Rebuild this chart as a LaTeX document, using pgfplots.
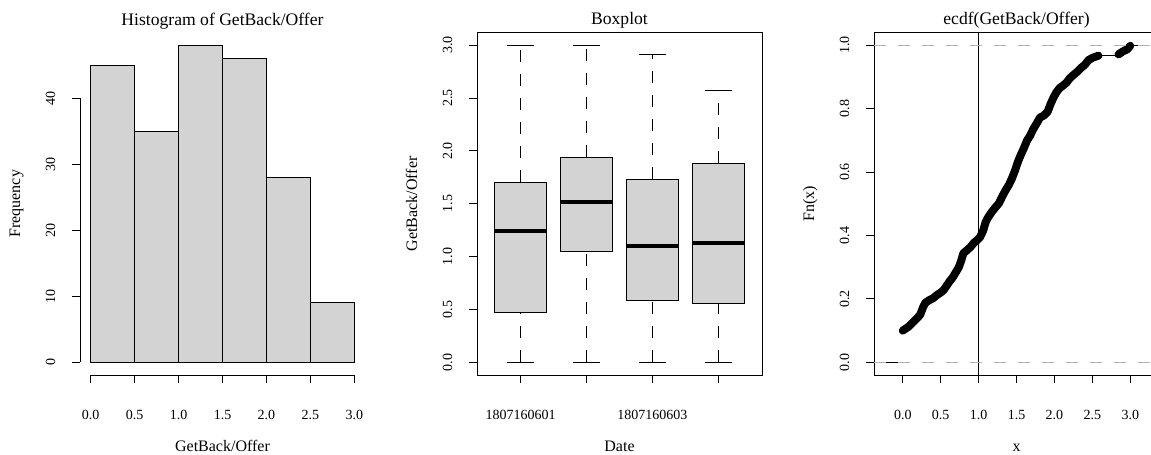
\documentclass[border=0pt]{standalone}
\usepackage{fontspec}
\setmainfont{Liberation Serif}
\usepackage{pgfplots}
\pgfplotsset{compat=1.18}
\definecolor{boxgray}{HTML}{D3D3D3}
\definecolor{dashgray}{HTML}{B3B3B3}
\pgfplotsset{
  rpanel/.style={
    scale only axis, width=142.5pt, height=171.25pt, anchor=south west,
    axis line style={line width=0.5pt},
    tick style={black, line width=0.5pt},
    tick align=outside, major tick length=4pt,
    tick pos=left,
    every axis title shift=0pt,
    tick label style={font=\fontsize{7}{8}\selectfont},
    label style={font=\fontsize{8}{9}\selectfont},
    title style={font=\fontsize{8.8}{10}\selectfont, at={(axis description cs:0.5,1.0219)}, anchor=base},
    xlabel style={at={(axis description cs:0.5,-0.2248)}, anchor=base},
    ylabel style={at={(axis description cs:-0.2105,0.5)}, anchor=base},
    xticklabel style={anchor=base, yshift=-18pt},
    yticklabel style={xshift=-8.5pt, rotate=90, anchor=base},
    clip=false,
  },
  dsh/.style={dash pattern=on 6pt off 6pt},
}
\begin{document}
\begin{tikzpicture}
\useasboundingbox (0,0) rectangle (575.5pt,227.5pt);
\clip (0,0) rectangle (575.5pt,227.5pt);
% ---------------- Histogram ----------------
\begin{axis}[rpanel, at={(40pt,40pt)},
  xmin=-0.12, xmax=3.12, ymin=-1.92, ymax=49.92,
  axis line style={draw=none},
  xtick={0,0.5,1,1.5,2,2.5,3}, xticklabels={0.0,0.5,1.0,1.5,2.0,2.5,3.0},
  ytick={0,10,20,30,40}, yticklabels={0,10,20,30,40},
  title={Histogram of GetBack/Offer}, xlabel={GetBack/Offer}, ylabel={Frequency}]
\addplot[ybar interval, fill=boxgray, draw=black, line width=0.5pt]
  coordinates {(0,45)(0.5,35)(1,48)(1.5,46)(2,28)(2.5,9)(3,9)};
\addplot[black, line width=0.5pt] coordinates {(0,-1.92)(3,-1.92)};
\addplot[black, line width=0.5pt] coordinates {(-0.12,0)(-0.12,40)};
\end{axis}
% ---------------- Boxplot ----------------
\begin{axis}[rpanel, at={(238.5pt,40pt)},
  xmin=0.34, xmax=4.66, ymin=-0.12, ymax=3.12,
  xtick={1,2,3,4}, xticklabels={1807160601,,1807160603,},
  ytick={0,0.5,1,1.5,2,2.5,3}, yticklabels={0.0,0.5,1.0,1.5,2.0,2.5,3.0},
  title={Boxplot}, xlabel={Date}, ylabel={GetBack/Offer}]
% box 1
\addplot[black, line width=0.5pt, dsh] coordinates {(1,0)(1,0.468)};
\addplot[black, line width=0.5pt, dsh] coordinates {(1,1.704)(1,3.0)};
\addplot[black, line width=0.5pt] coordinates {(0.8,0)(1.2,0)};
\addplot[black, line width=0.5pt] coordinates {(0.8,3.0)(1.2,3.0)};
\addplot[fill=boxgray, draw=black, line width=0.5pt] coordinates {(0.6,0.468)(1.4,0.468)(1.4,1.704)(0.6,1.704)(0.6,0.468)};
\addplot[black, line width=2pt] coordinates {(0.6,1.245)(1.4,1.245)};
% box 2
\addplot[black, line width=0.5pt, dsh] coordinates {(2,0)(2,1.05)};
\addplot[black, line width=0.5pt, dsh] coordinates {(2,1.94)(2,3.0)};
\addplot[black, line width=0.5pt] coordinates {(1.8,0)(2.2,0)};
\addplot[black, line width=0.5pt] coordinates {(1.8,3.0)(2.2,3.0)};
\addplot[fill=boxgray, draw=black, line width=0.5pt] coordinates {(1.6,1.05)(2.4,1.05)(2.4,1.94)(1.6,1.94)(1.6,1.05)};
\addplot[black, line width=2pt] coordinates {(1.6,1.512)(2.4,1.512)};
% box 3
\addplot[black, line width=0.5pt, dsh] coordinates {(3,0)(3,0.585)};
\addplot[black, line width=0.5pt, dsh] coordinates {(3,1.73)(3,2.915)};
\addplot[black, line width=0.5pt] coordinates {(2.8,0)(3.2,0)};
\addplot[black, line width=0.5pt] coordinates {(2.8,2.915)(3.2,2.915)};
\addplot[fill=boxgray, draw=black, line width=0.5pt] coordinates {(2.6,0.585)(3.4,0.585)(3.4,1.73)(2.6,1.73)(2.6,0.585)};
\addplot[black, line width=2pt] coordinates {(2.6,1.097)(3.4,1.097)};
% box 4
\addplot[black, line width=0.5pt, dsh] coordinates {(4,0)(4,0.553)};
\addplot[black, line width=0.5pt, dsh] coordinates {(4,1.883)(4,2.572)};
\addplot[black, line width=0.5pt] coordinates {(3.8,0)(4.2,0)};
\addplot[black, line width=0.5pt] coordinates {(3.8,2.572)(4.2,2.572)};
\addplot[fill=boxgray, draw=black, line width=0.5pt] coordinates {(3.6,0.553)(4.4,0.553)(4.4,1.883)(3.6,1.883)(3.6,0.553)};
\addplot[black, line width=2pt] coordinates {(3.6,1.128)(4.4,1.128)};
\end{axis}
% ---------------- ECDF ----------------
\begin{axis}[rpanel, at={(437pt,40pt)},
  xmin=-0.379, xmax=3.379, ymin=-0.04, ymax=1.04,
  xtick={0,0.5,1,1.5,2,2.5,3}, xticklabels={0.0,0.5,1.0,1.5,2.0,2.5,3.0},
  ytick={0,0.2,0.4,0.6,0.8,1}, yticklabels={0.0,0.2,0.4,0.6,0.8,1.0},
  title={ecdf(GetBack/Offer)}, xlabel={x}, ylabel={Fn(x)}]
\addplot[black, line width=0.5pt] coordinates {(-0.24,0)(0,0)};
\addplot[black, line width=0.5pt] coordinates {(2.58,0.969)(2.845,0.969)};
\addplot[black, line width=0.5pt] coordinates {(3,1)(3.24,1)};
\addplot[black, line width=4pt, line cap=round, line join=round] coordinates {
(0.00,0.100)(0.075,0.112)(0.13,0.125)(0.185,0.138)(0.23,0.150)(0.27,0.175)
(0.30,0.188)(0.35,0.196)(0.40,0.202)(0.45,0.212)(0.50,0.220)(0.54,0.228)
(0.58,0.242)(0.62,0.256)(0.66,0.268)(0.70,0.284)(0.74,0.300)(0.77,0.320)
(0.80,0.344)(0.84,0.352)(0.89,0.363)(0.94,0.377)(0.98,0.385)(1.02,0.395)
(1.06,0.415)(1.09,0.440)(1.12,0.455)(1.17,0.473)(1.22,0.488)(1.27,0.502)
(1.31,0.522)(1.35,0.540)(1.40,0.560)(1.44,0.580)(1.48,0.605)(1.52,0.633)
(1.56,0.656)(1.60,0.677)(1.64,0.700)(1.68,0.715)(1.72,0.735)(1.77,0.755)
(1.81,0.772)(1.86,0.778)(1.91,0.790)(1.95,0.815)(1.99,0.836)(2.03,0.853)
(2.07,0.865)(2.11,0.872)(2.16,0.882)(2.20,0.895)(2.25,0.906)(2.30,0.916)
(2.35,0.928)(2.40,0.938)(2.45,0.953)(2.50,0.960)(2.58,0.967)};
\addplot[black, line width=4pt, line cap=round, line join=round] coordinates {
(2.845,0.971)(2.90,0.980)(2.96,0.987)(3.00,0.998)};
\addplot[black, line width=0.5pt] coordinates {(1,-0.04)(1,1.04)};
\addplot[dashgray, line width=0.6pt, dsh] coordinates {(-0.379,0)(3.379,0)};
\addplot[dashgray, line width=0.6pt, dsh] coordinates {(-0.379,1)(3.379,1)};
\end{axis}
\end{tikzpicture}
\end{document}
